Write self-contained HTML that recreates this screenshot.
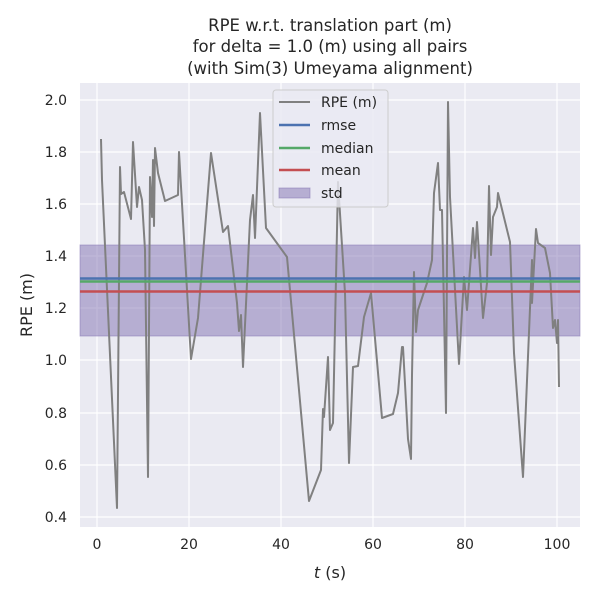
<!DOCTYPE html>
<html><head><meta charset="utf-8"><style>body{margin:0;background:#fff}</style></head><body>
<svg width="600" height="600" xmlns="http://www.w3.org/2000/svg" font-family="'DejaVu Sans','Liberation Sans',sans-serif">
<rect width="600" height="600" fill="#fff"/>
<rect x="80" y="83" width="500" height="444" fill="#eaeaf2"/>
<g stroke="#fff" stroke-width="1.2">
<line x1="97" y1="83" x2="97" y2="527"/><line x1="189" y1="83" x2="189" y2="527"/><line x1="281" y1="83" x2="281" y2="527"/><line x1="373" y1="83" x2="373" y2="527"/><line x1="465" y1="83" x2="465" y2="527"/><line x1="557" y1="83" x2="557" y2="527"/>
<line x1="80" y1="100" x2="580" y2="100"/><line x1="80" y1="152" x2="580" y2="152"/><line x1="80" y1="204" x2="580" y2="204"/><line x1="80" y1="256" x2="580" y2="256"/><line x1="80" y1="308" x2="580" y2="308"/><line x1="80" y1="360" x2="580" y2="360"/><line x1="80" y1="413" x2="580" y2="413"/><line x1="80" y1="465" x2="580" y2="465"/><line x1="80" y1="517" x2="580" y2="517"/>
</g>
<rect x="80" y="245" width="500" height="91" fill="#8172b2" fill-opacity="0.5" stroke="#8172b2" stroke-opacity="0.5"/>
<polyline fill="none" stroke="#808080" stroke-width="2" stroke-linejoin="round" points="101,139 102,180 117,508 120,167 121,194 124,192 131,219 133,142 137,207 139,187 142,200 145,250 148,477 150,177 152,217 153,160 154,226 155,148 158,173 165,201 178,195 179,152 191,359 198,318 211,153 223,232 228,226 237,303 239,331 241,315 243,367 250,220 253,195 255,238 260,113 266,228 287,257 309,501 321,470 323,409 324,417 328,357 330,430 333,423 338,182 345,293 349,463 353,367 358,366 364,317 371,293 382,418 393,414 398,393 402,347 403,347 408,439 411,459 412,375 414,272 416,332 418,310 427,283 432,260 434,193 438,163 440,210 442,210 446,413 448,102 450,197 459,364 464,277 467,310 473,228 475,258 477,222 483,318 487,283 489,186 491,255 493,217 497,207 498,193 510,242 514,353 523,477 532,260 532,303 536,229 538,243 545,248 550,273 553,328 555,320 557,343 558,320 559,387"/>
<line x1="80" y1="278.5" x2="580" y2="278.5" stroke="#4c72b0" stroke-width="2.5"/>
<line x1="80" y1="281.5" x2="580" y2="281.5" stroke="#55a868" stroke-width="2.5"/>
<line x1="80" y1="291.5" x2="580" y2="291.5" stroke="#c44e52" stroke-width="2.5"/>
<g>
<rect x="273" y="90" width="115" height="117" rx="3" fill="#eaeaf2" fill-opacity="0.8" stroke="#ccc"/>
<line x1="279" y1="102" x2="310" y2="102" stroke="#808080" stroke-width="2"/>
<line x1="279" y1="125" x2="310" y2="125" stroke="#4c72b0" stroke-width="2.5"/>
<line x1="279" y1="148" x2="310" y2="148" stroke="#55a868" stroke-width="2.5"/>
<line x1="279" y1="170" x2="310" y2="170" stroke="#c44e52" stroke-width="2.5"/>
<rect x="279" y="188" width="31" height="10" fill="#8172b2" fill-opacity="0.5" stroke="#8172b2" stroke-opacity="0.5"/>
<g font-size="14" fill="#262626">
<text x="321" y="107">RPE (m)</text><text x="321" y="130">rmse</text><text x="321" y="153">median</text><text x="321" y="175">mean</text><text x="321" y="198">std</text>
</g></g>
<g font-size="14" fill="#262626" text-anchor="end">
<text x="67" y="105">2.0</text><text x="67" y="157">1.8</text><text x="67" y="209">1.6</text><text x="67" y="261">1.4</text><text x="67" y="313">1.2</text><text x="67" y="365">1.0</text><text x="67" y="418">0.8</text><text x="67" y="470">0.6</text><text x="67" y="522">0.4</text>
</g>
<g font-size="14" fill="#262626" text-anchor="middle">
<text x="97" y="549">0</text><text x="189" y="549">20</text><text x="281" y="549">40</text><text x="373" y="549">60</text><text x="465" y="549">80</text><text x="557" y="549">100</text>
<text x="330" y="578" font-size="16"><tspan font-style="italic">t</tspan> (s)</text>
<text transform="translate(32,305) rotate(-90)" font-size="16">RPE (m)</text>
<text x="330" y="31" font-size="16.5">RPE w.r.t. translation part (m)</text>
<text x="330" y="52" font-size="16.5">for delta = 1.0 (m) using all pairs</text>
<text x="330" y="74" font-size="16.5">(with Sim(3) Umeyama alignment)</text>
</g>
</svg>
</body></html>
